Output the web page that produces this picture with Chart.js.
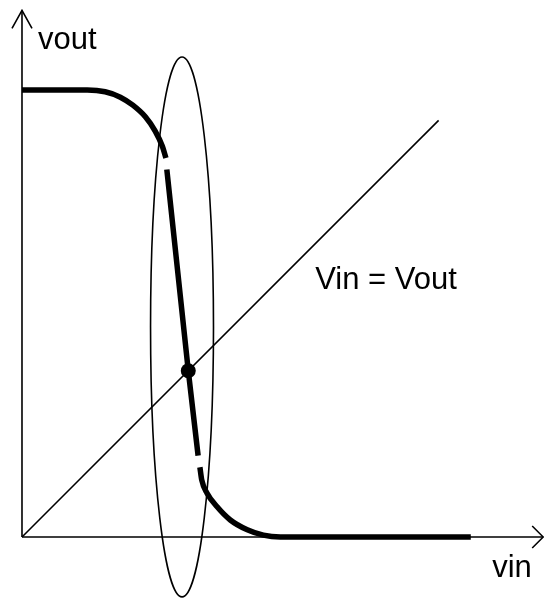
<!DOCTYPE html>
<html>
<head>
<meta charset="utf-8">
<script src="https://cdn.jsdelivr.net/npm/chart.js@4/dist/chart.umd.min.js"></script>
<style>
  html, body { margin: 0; padding: 0; background: #ffffff; }
  canvas { display: block; }
</style>
</head>
<body>
<canvas id="c" width="544" height="599"></canvas>
<script>
// ---- Data (volts, VDD = 5) ----
const upperVin  = [0.00, 0.73, 0.93, 1.10, 1.24, 1.38, 1.49, 1.57, 1.61];
const upperVout = [5.00, 5.00, 4.98, 4.92, 4.83, 4.70, 4.54, 4.37, 4.24];
const midVin    = [1.62, 1.86, 1.97];
const midVout   = [4.11, 1.86, 0.91];
const lowerVin  = [1.99, 2.01, 2.07, 2.18, 2.33, 2.52, 2.70, 2.89, 5.02];
const lowerVout = [0.78, 0.64, 0.49, 0.34, 0.19, 0.08, 0.02, 0.00, 0.00];
const switchPoint = [1.86, 1.86];          // Vin = Vout operating point
const unityLineVin = [0, 4.66];            // Vin = Vout reference line
const ellipseCenter = [1.79, 2.35];
const ellipseRadii  = [0.352, 3.02];
const axisEnd = [5.83, 5.89];              // x-axis tip, y-axis tip
const xRange = [-0.246, 5.839];
const yRange = [-0.694, 6.007];
const labels = { yAxis: "vout", xAxis: "vin", unity: "Vin = Vout" };
const labelPos = { yAxis: [0.18, 5.46], xAxis: [5.26, -0.45], unity: [3.28, 2.77] };

const pts = (xs, ys) => xs.map((x, i) => ({ x: x, y: ys[i] }));

const decor = {
  id: 'decor',
  beforeDatasetsDraw(chart) {
    const ctx = chart.ctx;
    const sx = chart.scales.x, sy = chart.scales.y;
    const X = v => sx.getPixelForValue(v), Y = v => sy.getPixelForValue(v);
    ctx.save();
    ctx.strokeStyle = '#000';
    ctx.lineWidth = 1.6;
    // axes
    const ox = X(0), oy = Y(0);
    const tx = X(axisEnd[0]), ty = Y(axisEnd[1]);
    ctx.beginPath();
    ctx.moveTo(ox, oy); ctx.lineTo(ox, ty);
    ctx.moveTo(ox, oy); ctx.lineTo(tx, oy);
    ctx.stroke();
    // arrow heads
    ctx.beginPath();
    ctx.moveTo(ox - 10, ty + 18); ctx.lineTo(ox, ty); ctx.lineTo(ox + 10, ty + 18);
    ctx.moveTo(tx - 11, oy - 11); ctx.lineTo(tx, oy); ctx.lineTo(tx - 11, oy + 11);
    ctx.stroke();
    // ellipse
    ctx.beginPath();
    const cx = X(ellipseCenter[0]), cy = Y(ellipseCenter[1]);
    const rx = Math.abs(X(ellipseCenter[0] + ellipseRadii[0]) - cx);
    const ry = Math.abs(Y(ellipseCenter[1] + ellipseRadii[1]) - cy);
    ctx.ellipse(cx, cy, rx, ry, 0, 0, Math.PI * 2);
    ctx.stroke();
    // labels
    ctx.fillStyle = '#000';
    ctx.font = '31px "Liberation Sans", Arial, sans-serif';
    ctx.textBaseline = 'alphabetic';
    ctx.textAlign = 'left';
    for (const k of Object.keys(labels)) {
      ctx.fillText(labels[k], X(labelPos[k][0]), Y(labelPos[k][1]));
    }
    ctx.restore();
  }
};

new Chart(document.getElementById('c'), {
  type: 'scatter',
  data: {
    datasets: [
      { data: pts(unityLineVin, unityLineVin), showLine: true, borderColor: '#000', borderWidth: 1.6, pointRadius: 0, pointHoverRadius: 0 },
      { data: pts(upperVin, upperVout), showLine: true, borderColor: '#000', borderWidth: 5.5, pointRadius: 0, pointHoverRadius: 0, cubicInterpolationMode: 'monotone' },
      { data: pts(midVin, midVout), showLine: true, borderColor: '#000', borderWidth: 5.5, pointRadius: 0, pointHoverRadius: 0 },
      { data: pts(lowerVin, lowerVout), showLine: true, borderColor: '#000', borderWidth: 5.5, pointRadius: 0, pointHoverRadius: 0, cubicInterpolationMode: 'monotone' },
      { data: [{ x: switchPoint[0], y: switchPoint[1] }], showLine: false, pointRadius: 7.5, pointHoverRadius: 7.5, pointBackgroundColor: '#000', pointBorderColor: '#000', pointBorderWidth: 0 }
    ]
  },
  options: {
    responsive: false,
    devicePixelRatio: 1,
    animation: false,
    events: [],
    layout: { padding: 0, autoPadding: false },
    plugins: { legend: { display: false }, tooltip: { enabled: false } },
    scales: {
      x: { type: 'linear', display: false, min: xRange[0], max: xRange[1] },
      y: { type: 'linear', display: false, min: yRange[0], max: yRange[1] }
    }
  },
  plugins: [decor]
});
</script>
</body>
</html>
